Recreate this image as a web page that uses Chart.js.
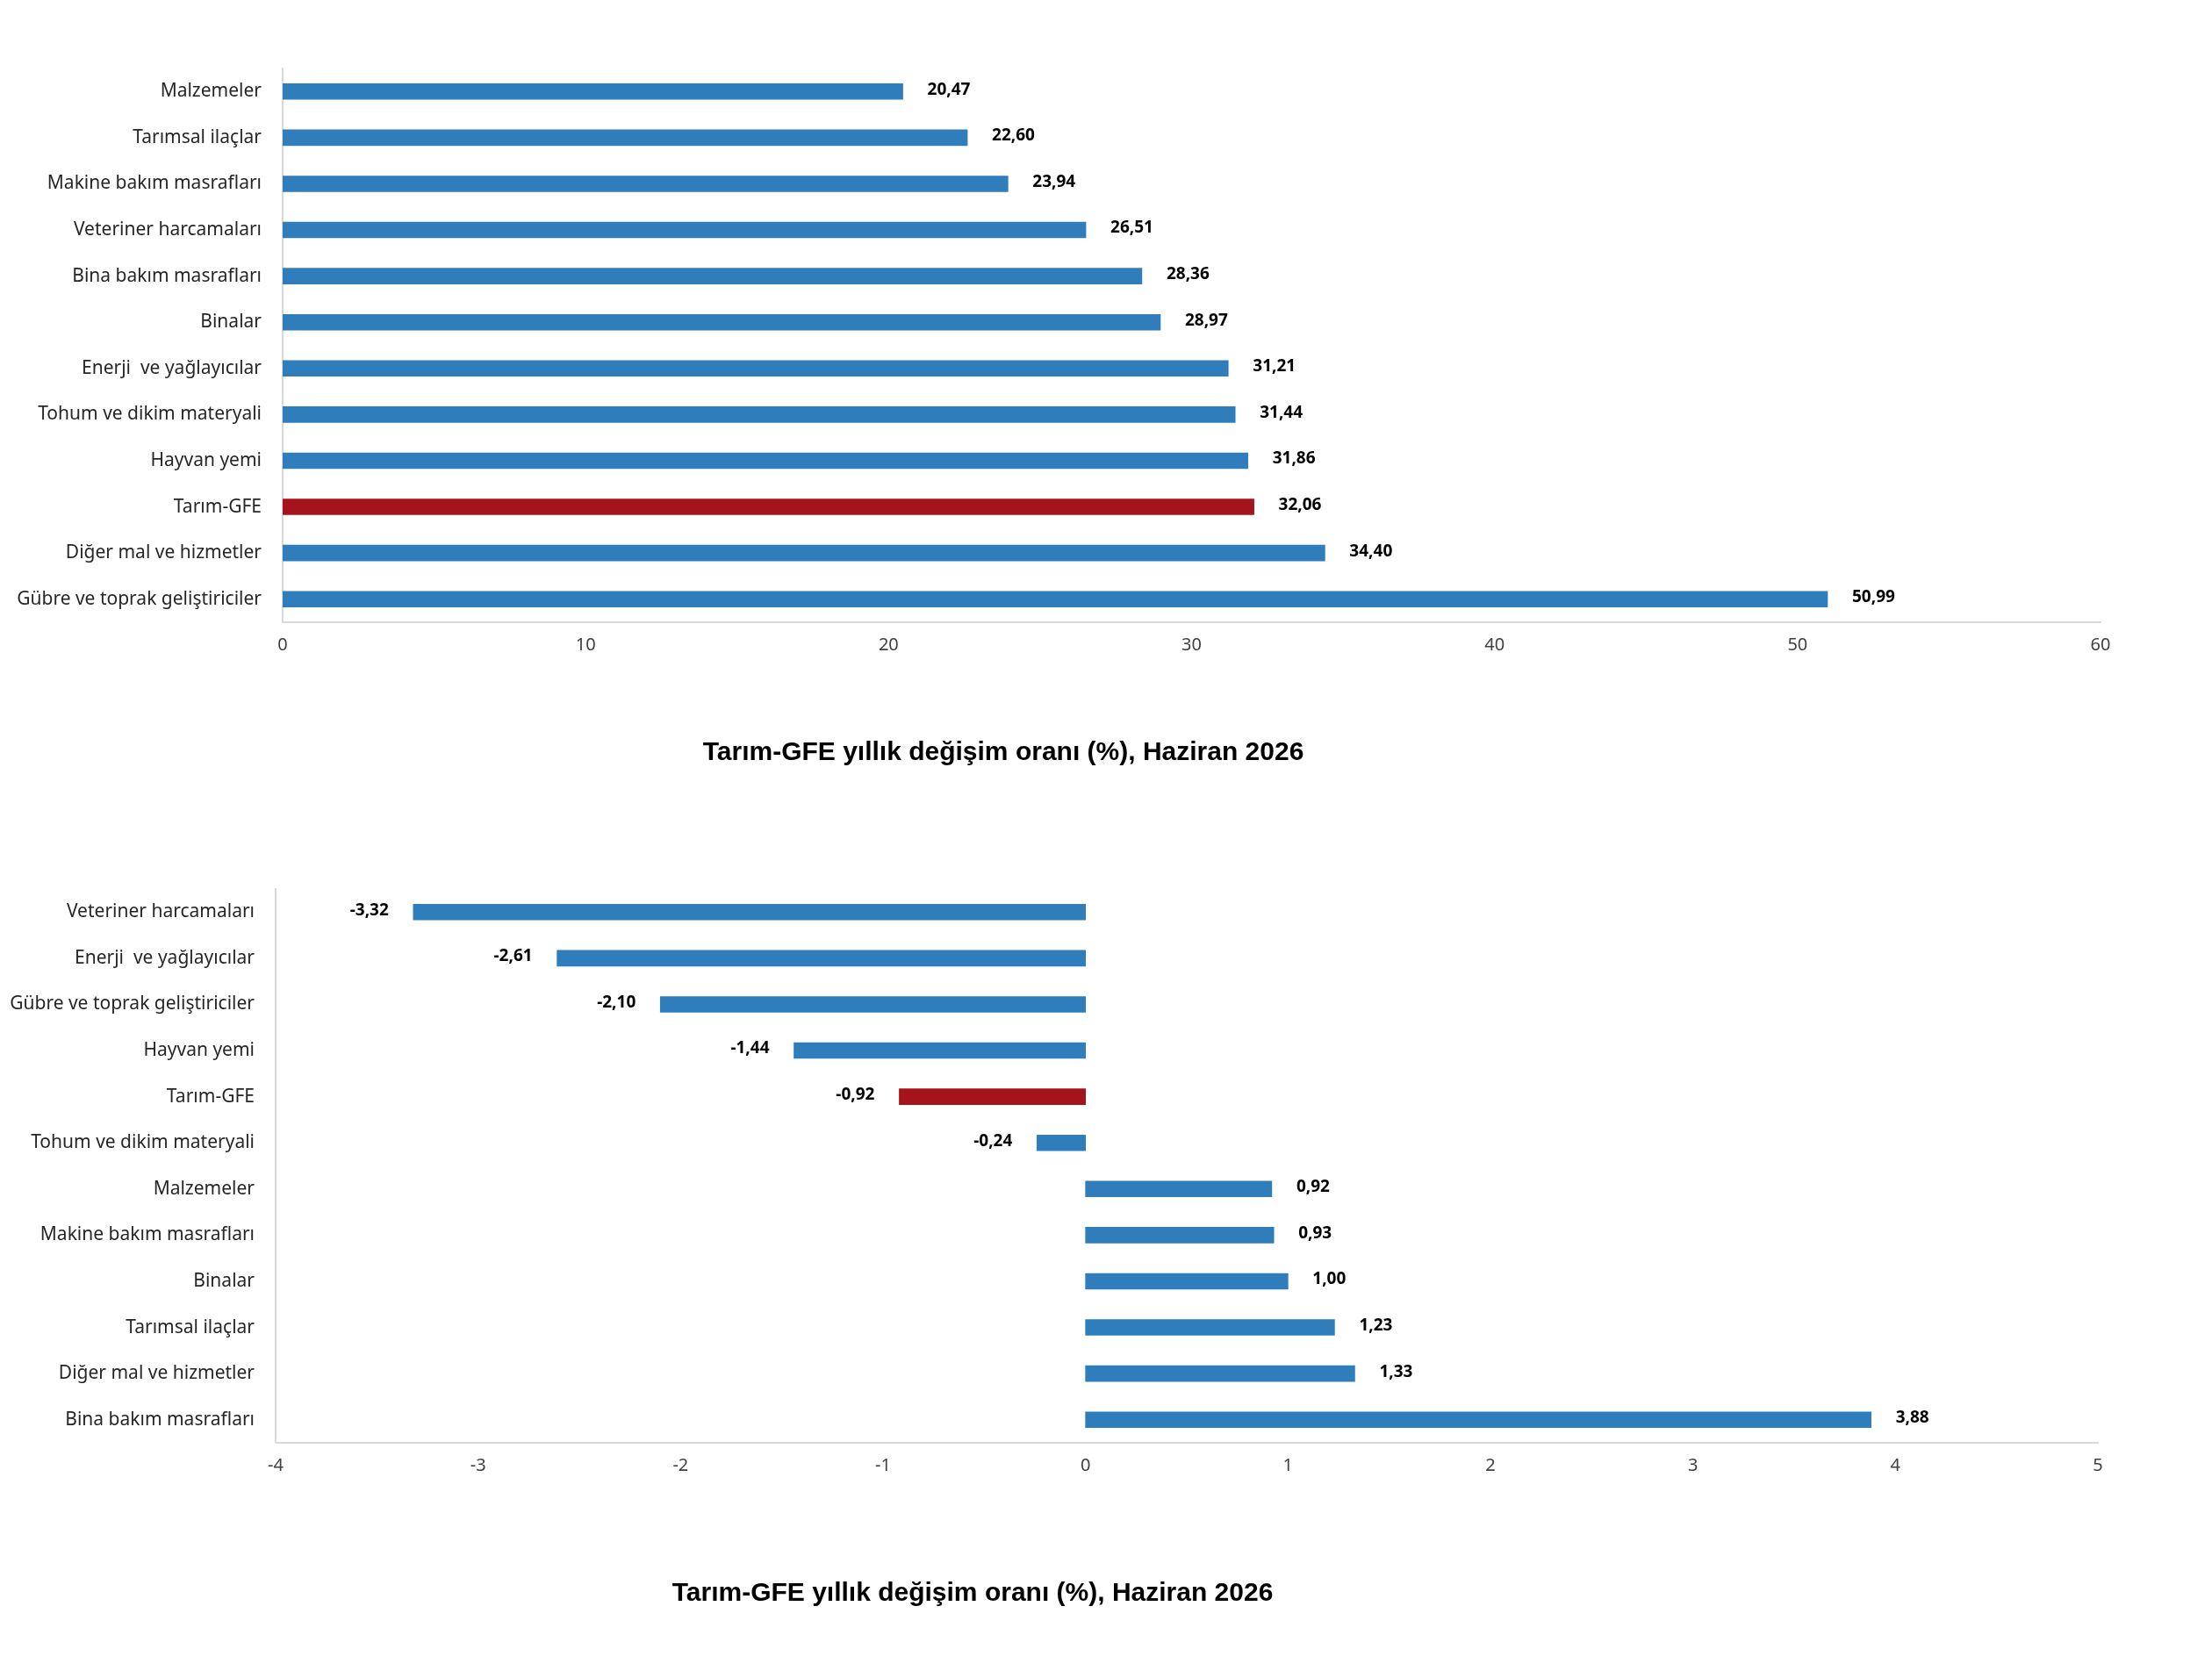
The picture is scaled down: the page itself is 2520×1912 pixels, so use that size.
<!DOCTYPE html>
<html><head><meta charset="utf-8">
<script src="https://cdn.jsdelivr.net/npm/chart.js@4"></script>
<style>body{margin:0;background:#fff}canvas{position:absolute;left:0}</style>
</head><body>
<canvas id="c1" style="top:0"></canvas>
<canvas id="c2" style="top:956px"></canvas>
<script>
const topCats=["Malzemeler","Tarımsal ilaçlar","Makine bakım masrafları","Veteriner harcamaları","Bina bakım masrafları","Binalar","Enerji  ve yağlayıcılar","Tohum ve dikim materyali","Hayvan yemi","Tarım-GFE","Diğer mal ve hizmetler","Gübre ve toprak geliştiriciler"];
const topVals=[20.47,22.60,23.94,26.51,28.36,28.97,31.21,31.44,31.86,32.06,34.40,50.99];
const botCats=["Veteriner harcamaları","Enerji  ve yağlayıcılar","Gübre ve toprak geliştiriciler","Hayvan yemi","Tarım-GFE","Tohum ve dikim materyali","Malzemeler","Makine bakım masrafları","Binalar","Tarımsal ilaçlar","Diğer mal ve hizmetler","Bina bakım masrafları"];
const botVals=[-3.32,-2.61,-2.10,-1.44,-0.92,-0.24,0.92,0.93,1.00,1.23,1.33,3.88];
const title="Tarım-GFE yıllık değişim oranı (%), Haziran 2026";
const BLUE="#2F7DBB",RED="#A5141B";
function make(id,cats,vals,min,max,yw,pad,titleY,titleX){
  const el=document.getElementById(id);
  el.width=2520;el.height=956;el.style.width="2520px";el.style.height="956px";
  new Chart(el,{type:'bar',
    data:{labels:cats,datasets:[{data:vals,backgroundColor:cats.map(c=>c==="Tarım-GFE"?RED:BLUE),barThickness:18}]},
    options:{indexAxis:'y',responsive:false,animation:false,devicePixelRatio:1,
      layout:{padding:pad},
      plugins:{legend:{display:false},tooltip:{enabled:false}},
      scales:{
        x:{min:min,max:max,ticks:{stepSize:1*(max-min>20?10:1),color:'#404040',font:{family:'Noto Sans',size:20},padding:14},
           grid:{display:false,drawTicks:false},border:{color:'#d9d9d9',width:2}},
        y:{ticks:{color:'#262626',font:{family:'Noto Sans',size:21},padding:24},
           grid:{display:false,drawTicks:false},border:{color:'#d9d9d9',width:2},
           afterFit:s=>{s.width=yw;}}
      }},
    plugins:[{id:'lbl',afterDatasetsDraw(ch){
      const ctx=ch.ctx,m=ch.getDatasetMeta(0);
      ctx.save();ctx.font='bold 19px "Noto Sans"';ctx.fillStyle='#000';ctx.textBaseline='middle';
      m.data.forEach((b,i)=>{const v=vals[i];const t=v.toFixed(2).replace('.',',');
        if(v>=0){ctx.textAlign='left';ctx.fillText(t,b.x+28,b.y-2);}
        else{ctx.textAlign='right';ctx.fillText(t,b.x-28,b.y-2);}});
      ctx.font='bold 30px "Liberation Sans Narrow","Liberation Sans"';ctx.textAlign='center';
      ctx.fillText(title,titleX,titleY);
      ctx.restore();}}]
  });
}
make('c1',topCats,topVals,0,60,322,{top:78,right:127,bottom:195,left:0},858,1143);
make('c2',botCats,botVals,-4,5,314,{top:57,right:130,bottom:216,left:0},860,1108);
</script></body></html>
